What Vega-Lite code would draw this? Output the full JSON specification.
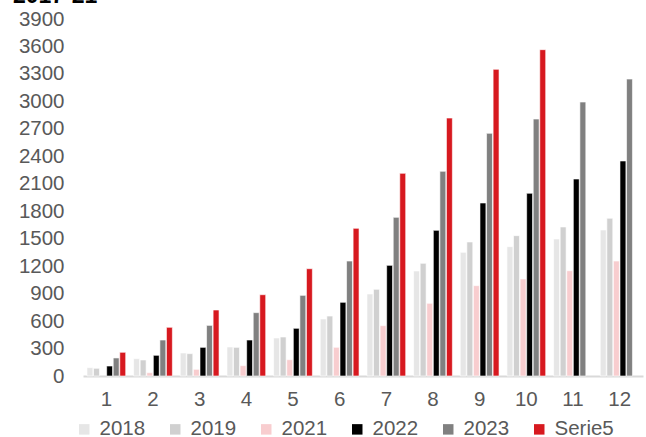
{
  "$schema": "https://vega.github.io/schema/vega-lite/v6.json",
  "autosize": {"type": "none"},
  "width": 560,
  "height": 357,
  "padding": {"left": 83, "top": 19, "right": 3, "bottom": 61},
  "background": "white",
  "title": {
    "text": "2017-21",
    "anchor": "start",
    "frame": "group",
    "baseline": "alphabetic",
    "offset": 0,
    "dx": -70,
    "dy": 17,
    "font": "Liberation Sans",
    "fontSize": 23,
    "fontWeight": "bold",
    "color": "#000000"
  },
  "data": {
    "values": [
      {"month": 1, "series": "2018", "value": 91},
      {"month": 1, "series": "2019", "value": 84},
      {"month": 1, "series": "2022", "value": 109},
      {"month": 1, "series": "2023", "value": 197},
      {"month": 1, "series": "Serie5", "value": 259},
      {"month": 2, "series": "2018", "value": 189},
      {"month": 2, "series": "2019", "value": 175},
      {"month": 2, "series": "2021", "value": 36},
      {"month": 2, "series": "2022", "value": 226},
      {"month": 2, "series": "2023", "value": 393},
      {"month": 2, "series": "Serie5", "value": 532},
      {"month": 3, "series": "2018", "value": 251},
      {"month": 3, "series": "2019", "value": 244},
      {"month": 3, "series": "2021", "value": 73},
      {"month": 3, "series": "2022", "value": 313},
      {"month": 3, "series": "2023", "value": 553},
      {"month": 3, "series": "Serie5", "value": 721},
      {"month": 4, "series": "2018", "value": 317},
      {"month": 4, "series": "2019", "value": 313},
      {"month": 4, "series": "2021", "value": 113},
      {"month": 4, "series": "2022", "value": 393},
      {"month": 4, "series": "2023", "value": 692},
      {"month": 4, "series": "Serie5", "value": 888},
      {"month": 5, "series": "2018", "value": 415},
      {"month": 5, "series": "2019", "value": 426},
      {"month": 5, "series": "2021", "value": 178},
      {"month": 5, "series": "2022", "value": 521},
      {"month": 5, "series": "2023", "value": 881},
      {"month": 5, "series": "Serie5", "value": 1172},
      {"month": 6, "series": "2018", "value": 623},
      {"month": 6, "series": "2019", "value": 655},
      {"month": 6, "series": "2021", "value": 313},
      {"month": 6, "series": "2022", "value": 805},
      {"month": 6, "series": "2023", "value": 1256},
      {"month": 6, "series": "Serie5", "value": 1613},
      {"month": 7, "series": "2018", "value": 896},
      {"month": 7, "series": "2019", "value": 947},
      {"month": 7, "series": "2021", "value": 550},
      {"month": 7, "series": "2022", "value": 1209},
      {"month": 7, "series": "2023", "value": 1733},
      {"month": 7, "series": "Serie5", "value": 2214},
      {"month": 8, "series": "2018", "value": 1147},
      {"month": 8, "series": "2019", "value": 1231},
      {"month": 8, "series": "2021", "value": 794},
      {"month": 8, "series": "2022", "value": 1591},
      {"month": 8, "series": "2023", "value": 2236},
      {"month": 8, "series": "Serie5", "value": 2818},
      {"month": 9, "series": "2018", "value": 1351},
      {"month": 9, "series": "2019", "value": 1464},
      {"month": 9, "series": "2021", "value": 987},
      {"month": 9, "series": "2022", "value": 1890},
      {"month": 9, "series": "2023", "value": 2651},
      {"month": 9, "series": "Serie5", "value": 3350},
      {"month": 10, "series": "2018", "value": 1413},
      {"month": 10, "series": "2019", "value": 1533},
      {"month": 10, "series": "2021", "value": 1060},
      {"month": 10, "series": "2022", "value": 1996},
      {"month": 10, "series": "2023", "value": 2807},
      {"month": 10, "series": "Serie5", "value": 3565},
      {"month": 11, "series": "2018", "value": 1497},
      {"month": 11, "series": "2019", "value": 1628},
      {"month": 11, "series": "2021", "value": 1150},
      {"month": 11, "series": "2022", "value": 2152},
      {"month": 11, "series": "2023", "value": 2993},
      {"month": 12, "series": "2018", "value": 1595},
      {"month": 12, "series": "2019", "value": 1723},
      {"month": 12, "series": "2021", "value": 1256},
      {"month": 12, "series": "2022", "value": 2349},
      {"month": 12, "series": "2023", "value": 3244}
    ]
  },
  "mark": {"type": "bar", "stroke": "white", "strokeWidth": 0.6},
  "encoding": {
    "x": {
      "field": "month",
      "type": "ordinal",
      "scale": {"paddingInner": 0.17, "paddingOuter": 0.085},
      "axis": {
        "title": null,
        "labelAngle": 0,
        "labelFont": "Liberation Sans",
        "labelFontSize": 20.5,
        "labelColor": "#595959",
        "labelPadding": 13,
        "ticks": false,
        "domainColor": "#d9d9d9",
        "domainWidth": 2
      }
    },
    "xOffset": {
      "field": "series",
      "type": "nominal",
      "scale": {"domain": ["2018", "2019", "2021", "2022", "2023", "Serie5"], "paddingInner": 0.1}
    },
    "y": {
      "field": "value",
      "type": "quantitative",
      "scale": {"domain": [0, 3900], "nice": false},
      "axis": {
        "title": null,
        "format": "d",
        "values": [0, 300, 600, 900, 1200, 1500, 1800, 2100, 2400, 2700, 3000, 3300, 3600, 3900],
        "grid": false,
        "domain": false,
        "ticks": false,
        "labelFont": "Liberation Sans",
        "labelFontSize": 20.5,
        "labelColor": "#595959",
        "labelPadding": 19
      }
    },
    "color": {
      "field": "series",
      "type": "nominal",
      "scale": {
        "domain": ["2018", "2019", "2021", "2022", "2023", "Serie5"],
        "range": ["#e6e6e6", "#d0d0d0", "#f8cdcf", "#000000", "#808080", "#d7191f"]
      },
      "legend": {
        "title": null,
        "orient": "none",
        "direction": "horizontal",
        "legendX": -9,
        "legendY": 400,
        "symbolType": "square",
        "symbolSize": 110,
        "symbolStrokeWidth": 0,
        "labelFont": "Liberation Sans",
        "labelFontSize": 20.5,
        "labelColor": "#595959",
        "labelOffset": 5,
        "columnPadding": 19
      }
    }
  },
  "config": {"view": {"stroke": null}}
}
